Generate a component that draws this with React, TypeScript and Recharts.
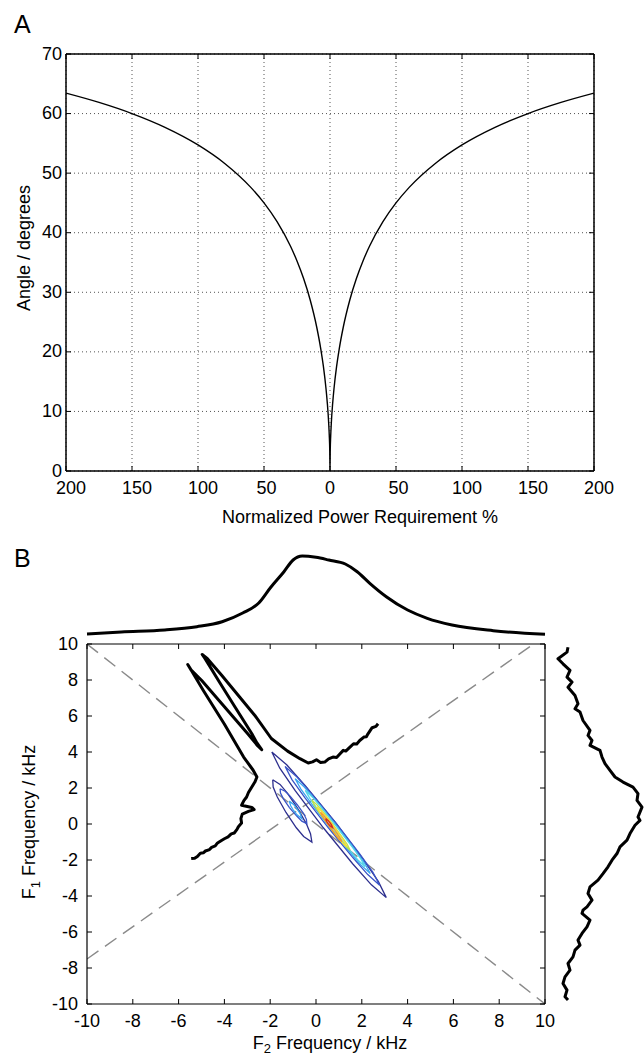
import { LineChart, ComposedChart, Line, XAxis, YAxis, CartesianGrid } from "recharts";

const FONT = "'Liberation Sans', Arial, Helvetica, sans-serif";

// ---- panel A: angle vs normalized power ----
const powerPct = [-200, -175, -150, -125, -100, -80, -60, -50, -40, -30, -25, -20, -15, -10, -7, -5, -3, -2, -1, -0.5, -0.2, 0, 0.2, 0.5, 1, 2, 3, 5, 7, 10, 15, 20, 25, 30, 40, 50, 60, 80, 100, 125, 150, 175, 200];
const angleDeg = [63.43, 61.87, 60.0, 57.69, 54.74, 51.67, 47.61, 45.0, 41.81, 37.76, 35.26, 32.31, 28.71, 24.09, 20.51, 17.55, 13.76, 11.31, 8.05, 5.71, 3.62, 0, 3.62, 5.71, 8.05, 11.31, 13.76, 17.55, 20.51, 24.09, 28.71, 32.31, 35.26, 37.76, 41.81, 45.0, 47.61, 51.67, 54.74, 57.69, 60.0, 61.87, 63.43];
const powerTicks = [-200, -150, -100, -50, 0, 50, 100, 150, 200];
const angleTicks = [0, 10, 20, 30, 40, 50, 60, 70];

// ---- panel B ----
const freqTicks = [-10, -8, -6, -4, -2, 0, 2, 4, 6, 8, 10];

const topF2 = [-10, -8.5, -6.6, -5.2, -4.1, -3.2, -2.5, -2.0, -1.4, -1.0, -0.6, 0, 0.56, 1.28, 1.8, 2.35, 3.07, 4.0, 4.86, 5.94, 7.74, 10];
const topDensity = [6, 8, 10, 13.3, 18.3, 27, 37, 52, 68.3, 80, 84, 82.7, 80, 76, 68.3, 56.7, 43.3, 30, 21.7, 15, 9.3, 5.7];

const rightF1 = [9.82, 9.55, 9.18, 8.9, 8.53, 8.16, 7.88, 7.6, 7.14, 6.68, 6.4, 6.22, 5.75, 5.2, 4.92, 4.64, 4.37, 4.09, 3.72, 3.35, 2.98, 2.61, 2.33, 2.05, 1.69, 1.31, 0.94, 0.39, 0.2, -0.07, -0.53, -0.9, -1.27, -1.64, -2.01, -2.38, -2.76, -3.12, -3.49, -3.86, -4.23, -4.6, -4.79, -4.97, -5.34, -5.71, -6.08, -6.45, -6.73, -7.01, -7.38, -7.75, -8.12, -8.49, -8.86, -9.23, -9.6, -9.78];
const rightDensity = [18, 17, 8, 13, 20, 17, 22, 18, 25, 28, 25, 30, 33, 40, 38, 42, 40, 50, 52, 55, 60, 65, 73, 83, 88, 87, 92, 88, 90, 85, 80, 77, 70, 67, 62, 58, 53, 48, 40, 38, 42, 37, 33, 32, 40, 37, 32, 28, 30, 25, 23, 18, 20, 15, 13, 17, 15, 18];

// [F2, F1] pairs
const trajectory: [number, number][] = [
  [-5.45, -1.92], [-5.3, -1.9], [-5.18, -1.8], [-5.05, -1.62], [-4.92, -1.6], [-4.83, -1.5], [-4.65, -1.42], [-4.56, -1.3],
  [-4.4, -1.22], [-4.3, -1.05], [-4.11, -0.9], [-4.0, -0.82], [-3.84, -0.72], [-3.7, -0.55], [-3.57, -0.5], [-3.45, -0.3],
  [-3.39, -0.15], [-3.25, 0.05], [-3.28, 0.3], [-3.22, 0.55], [-2.95, 0.7], [-2.7, 0.8], [-2.8, 0.92], [-3.25, 1.04],
  [-3.15, 1.3], [-3.03, 1.5], [-2.95, 1.75], [-2.85, 1.96], [-2.67, 2.33], [-2.58, 2.61], [-2.75, 3.0], [-3.16, 3.72],
  [-4.01, 5.57], [-4.92, 7.42], [-5.44, 8.53], [-5.6, 8.86], [-5.45, 8.55], [-4.99, 7.97], [-3.98, 6.49], [-2.98, 5.01],
  [-2.55, 4.35], [-2.37, 4.13], [-2.58, 4.5], [-2.8, 5.01], [-3.53, 6.49], [-4.26, 7.97], [-4.85, 9.2], [-4.97, 9.42],
  [-4.74, 9.18], [-4.11, 8.25], [-3.39, 7.14], [-2.67, 6.03], [-1.95, 4.75], [-1.24, 4.05], [-0.7, 3.63], [-0.34, 3.39],
  [-0.15, 3.45], [0.02, 3.57], [0.2, 3.42], [0.38, 3.44], [0.55, 3.62], [0.74, 3.72], [0.9, 3.7], [1.01, 3.85],
  [1.19, 4.09], [1.3, 4.05], [1.46, 4.24], [1.64, 4.46], [1.78, 4.45], [1.91, 4.64], [2.09, 4.83], [2.2, 4.85],
  [2.27, 5.01], [2.45, 5.35], [2.62, 5.42], [2.71, 5.57],
];

const diagDown: [number, number][] = [[-10, 10], [10, -10]];
const diagUp: [number, number][] = [[-10, -7.5], [9.5, 10]];

const navyMain: [number, number][] = [[-1.93, 4.0], [-1.28, 3.29], [-0.46, 2.12], [0.83, 0.11], [2.04, -1.93], [2.72, -3.19], [3.07, -4.09], [2.42, -3.38], [1.6, -2.21], [0.32, -0.21], [-0.9, 1.84], [-1.58, 3.1], [-1.93, 4.0]];
const blueMain: [number, number][] = [[-1.35, 3.2], [-0.83, 2.61], [-0.17, 1.65], [0.9, 0.01], [1.9, -1.65], [2.48, -2.67], [2.78, -3.4], [2.26, -2.81], [1.6, -1.85], [0.54, -0.21], [-0.48, 1.45], [-1.05, 2.47], [-1.35, 3.2]];
const skyMain: [number, number][] = [[-0.91, 2.52], [-0.5, 2.04], [0.02, 1.27], [0.86, -0.04], [1.66, -1.36], [2.12, -2.17], [2.37, -2.75], [1.96, -2.27], [1.44, -1.5], [0.6, -0.2], [-0.2, 1.13], [-0.66, 1.94], [-0.91, 2.52]];
const cyanMain: [number, number][] = [[-0.47, 1.87], [-0.15, 1.49], [0.27, 0.86], [0.93, -0.2], [1.58, -1.27], [1.95, -1.93], [2.15, -2.38], [1.83, -2.0], [1.42, -1.37], [0.75, -0.32], [0.11, 0.76], [-0.27, 1.42], [-0.47, 1.87]];
const greenMain: [number, number][] = [[-0.18, 1.32], [0.04, 1.07], [0.31, 0.67], [0.74, -0.02], [1.14, -0.73], [1.37, -1.15], [1.49, -1.46], [1.27, -1.21], [1.0, -0.81], [0.58, -0.12], [0.17, 0.59], [-0.06, 1.01], [-0.18, 1.32]];
const yellowMain: [number, number][] = [[0.04, 0.95], [0.21, 0.75], [0.43, 0.43], [0.76, -0.12], [1.08, -0.69], [1.26, -1.03], [1.35, -1.27], [1.18, -1.07], [0.96, -0.75], [0.64, -0.2], [0.32, 0.37], [0.13, 0.71], [0.04, 0.95]];
const orangeMain: [number, number][] = [[0.2, 0.65], [0.32, 0.51], [0.47, 0.27], [0.72, -0.14], [0.94, -0.55], [1.07, -0.81], [1.13, -0.99], [1.01, -0.85], [0.86, -0.61], [0.62, -0.2], [0.39, 0.21], [0.26, 0.47], [0.2, 0.65]];
const redMain: [number, number][] = [[0.42, 0.3], [0.53, 0.2], [0.61, 0.08], [0.68, -0.05], [0.72, -0.2], [0.61, -0.1], [0.53, 0.02], [0.46, 0.15], [0.42, 0.3]];
const navyLobe: [number, number][] = [[-1.89, 2.46], [-1.57, 2.2], [-1.25, 1.72], [-0.81, 0.88], [-0.42, 0.01], [-0.24, -0.54], [-0.18, -1.0], [-0.54, -0.69], [-0.86, -0.21], [-1.31, 0.64], [-1.69, 1.5], [-1.87, 2.05], [-1.89, 2.46]];
const blueLobe: [number, number][] = [[-1.57, 1.96], [-1.35, 1.82], [-1.13, 1.55], [-0.82, 1.07], [-0.54, 0.58], [-0.42, 0.26], [-0.4, 0.02], [-0.62, 0.16], [-0.84, 0.44], [-1.16, 0.91], [-1.43, 1.41], [-1.55, 1.72], [-1.57, 1.96]];
const skyLobe: [number, number][] = [[-1.17, 1.27], [-0.96, 1.07], [-0.82, 0.83], [-0.69, 0.58], [-0.62, 0.3], [-0.83, 0.51], [-0.98, 0.75], [-1.1, 1.0], [-1.17, 1.27]];

const contours: { pts: [number, number][]; color: string }[] = [
  { pts: navyLobe, color: "#2d2f8e" },
  { pts: blueLobe, color: "#3a55c8" },
  { pts: skyLobe, color: "#3aa6ee" },
  { pts: navyMain, color: "#2d2f8e" },
  { pts: blueMain, color: "#3a55c8" },
  { pts: skyMain, color: "#3aa6ee" },
  { pts: cyanMain, color: "#55d6e8" },
  { pts: greenMain, color: "#bde24c" },
  { pts: yellowMain, color: "#f4e03a" },
  { pts: orangeMain, color: "#f09a30" },
  { pts: redMain, color: "#d8261c" },
];

const angleData = powerPct.map((p, i) => ({ p, a: angleDeg[i] }));
const topData = topF2.map((x, i) => ({ x, y: topDensity[i] }));
const rightData = rightF1.map((f, i) => ({ v: rightDensity[i], f }));
const toXY = (pts: [number, number][]) => pts.map(([x, y]) => ({ x, y }));

type Side = "bottom" | "top" | "left" | "right";

function makeTick(side: Side, len: number, fmt?: (v: number) => string, gap = 0, shift = 0) {
  return function TickMark(props: any) {
    const { x, y, payload } = props;
    const v = payload ? payload.value : 0;
    const mark =
      side === "bottom" ? { x1: x, x2: x, y1: y, y2: y - len }
      : side === "top" ? { x1: x, x2: x, y1: y, y2: y + len }
      : side === "left" ? { x1: x, x2: x + len, y1: y, y2: y }
      : { x1: x, x2: x - len, y1: y, y2: y };
    const s = fmt ? fmt(v) : "";
    return (
      <g>
        <line {...mark} stroke="#000" strokeWidth={1} />
        {fmt && side === "bottom" && (
          <text x={x + shift * (s.length - 1)} y={y + gap} textAnchor="middle" fontSize={18} fontFamily={FONT} fill="#000">
            {s}
          </text>
        )}
        {fmt && side === "left" && (
          <text x={x - gap} y={y + 5.5} textAnchor="end" fontSize={18} fontFamily={FONT} fill="#000">
            {s}
          </text>
        )}
      </g>
    );
  };
}

const absFmt = (v: number) => String(Math.abs(v));
const plainFmt = (v: number) => String(v);

function PanelA() {
  const axisA = { stroke: "#000", strokeWidth: 1.5 };
  return (
    <div style={{ position: "absolute", left: 0, top: 0 }}>
      <LineChart width={644} height={540} data={angleData} margin={{ top: 53, right: 49, bottom: 68, left: 65 }}>
        <CartesianGrid stroke="#555" strokeDasharray="1 3" />
        <XAxis dataKey="p" type="number" domain={[-200, 200]} ticks={powerTicks} interval={0} allowDataOverflow
          height={1} tickSize={0} tickMargin={0} axisLine={axisA} tickLine={false} tick={makeTick("bottom", 5, absFmt, 23, 2.5)} />
        <XAxis xAxisId="top" orientation="top" dataKey="p" type="number" domain={[-200, 200]} ticks={powerTicks} interval={0}
          allowDataOverflow height={1} tickSize={0} tickMargin={0} axisLine={axisA} tickLine={false} tick={makeTick("top", 5)} />
        <YAxis type="number" domain={[0, 70]} ticks={angleTicks} interval={0} allowDataOverflow width={1}
          tickSize={0} tickMargin={0} axisLine={axisA} tickLine={false} tick={makeTick("left", 5, plainFmt, 4)} />
        <YAxis yAxisId="right" orientation="right" type="number" domain={[0, 70]} ticks={angleTicks} interval={0}
          allowDataOverflow width={1} tickSize={0} tickMargin={0} axisLine={axisA} tickLine={false} tick={makeTick("right", 5)} />
        <Line dataKey="a" type="monotone" stroke="#000" strokeWidth={1.4} dot={false} activeDot={false} isAnimationActive={false} />
        <Line dataKey="a" xAxisId="top" yAxisId="right" stroke="none" dot={false} activeDot={false} isAnimationActive={false} />
      </LineChart>
    </div>
  );
}

function PanelBMain() {
  const axisB = { stroke: "#000", strokeWidth: 1.2 };
  return (
    <div style={{ position: "absolute", left: 0, top: 580 }}>
      <ComposedChart width={644} height={477} margin={{ top: 63, right: 98, bottom: 52, left: 86 }}>
        <XAxis dataKey="x" type="number" domain={[-10, 10]} ticks={freqTicks} interval={0} allowDataOverflow
          height={1} tickSize={0} tickMargin={0} axisLine={axisB} tickLine={false} tick={makeTick("bottom", 5, plainFmt, 23)} />
        <XAxis xAxisId="top" orientation="top" dataKey="x" type="number" domain={[-10, 10]} ticks={freqTicks} interval={0}
          allowDataOverflow height={1} tickSize={0} tickMargin={0} axisLine={axisB} tickLine={false} tick={makeTick("top", 5)} />
        <YAxis type="number" domain={[-10, 10]} ticks={freqTicks} interval={0} allowDataOverflow width={1}
          tickSize={0} tickMargin={0} axisLine={axisB} tickLine={false} tick={makeTick("left", 5, plainFmt, 9)} />
        <YAxis yAxisId="right" orientation="right" type="number" domain={[-10, 10]} ticks={freqTicks} interval={0}
          allowDataOverflow width={1} tickSize={0} tickMargin={0} axisLine={axisB} tickLine={false} tick={makeTick("right", 5)} />
        <Line data={toXY(diagDown)} dataKey="y" type="linear" stroke="#8a8a8a" strokeWidth={1.4} strokeDasharray="14 8"
          dot={false} activeDot={false} isAnimationActive={false} />
        <Line data={toXY(diagUp)} dataKey="y" type="linear" stroke="#8a8a8a" strokeWidth={1.4} strokeDasharray="14 8"
          dot={false} activeDot={false} isAnimationActive={false} />
        {contours.map((c, i) => (
          <Line key={"c" + i} data={toXY(c.pts)} dataKey="y" type="linear" stroke={c.color} strokeWidth={1.3}
            dot={false} activeDot={false} isAnimationActive={false} />
        ))}
        <Line data={toXY(trajectory)} dataKey="y" type="linear" stroke="#000" strokeWidth={3} strokeLinejoin="round"
          dot={false} activeDot={false} isAnimationActive={false} />
        <Line data={toXY(diagDown)} dataKey="y" xAxisId="top" yAxisId="right" stroke="none" dot={false} activeDot={false}
          isAnimationActive={false} />
      </ComposedChart>
    </div>
  );
}

function PanelBTop() {
  return (
    <div style={{ position: "absolute", left: 0, top: 545 }}>
      <LineChart width={644} height={95} data={topData} margin={{ top: 5, right: 99, bottom: 0, left: 87 }}>
        <XAxis dataKey="x" type="number" domain={[-10, 10]} hide height={0} />
        <YAxis type="number" domain={[0, 90]} hide width={0} />
        <Line dataKey="y" type="monotone" stroke="#000" strokeWidth={3} dot={false} activeDot={false} isAnimationActive={false} />
      </LineChart>
    </div>
  );
}

function PanelBRight() {
  return (
    <div style={{ position: "absolute", left: 550, top: 630 }}>
      <LineChart width={94} height={390} data={rightData} margin={{ top: 14, right: 0, bottom: 16, left: 0 }}>
        <XAxis dataKey="v" type="number" domain={[0, 94]} hide height={0} />
        <YAxis type="number" domain={[-10, 10]} hide width={0} />
        <Line dataKey="f" type="linear" stroke="#000" strokeWidth={3} strokeLinejoin="round" dot={false} activeDot={false}
          isAnimationActive={false} />
      </LineChart>
    </div>
  );
}

export default function App() {
  return (
    <div style={{ position: "absolute", left: 0, top: 0, width: 644, height: 1057, background: "#fff", overflow: "hidden" }}>
      <PanelA />
      <PanelBTop />
      <PanelBMain />
      <PanelBRight />
      <svg width={644} height={1057} style={{ position: "absolute", left: 0, top: 0, pointerEvents: "none" }}
        fontFamily={FONT} fill="#000">
        <text x={14} y={33} fontSize={25}>A</text>
        <text transform="translate(30,248) rotate(-90)" fontSize={18} textAnchor="middle">Angle / degrees</text>
        <text x={360} y={523} fontSize={18} textAnchor="middle">Normalized Power Requirement %</text>
        <text x={14} y={567} fontSize={25}>B</text>
        <text transform="translate(35,822) rotate(-90)" fontSize={18} textAnchor="middle">
          F<tspan fontSize={13} dy={5}>1</tspan>
          <tspan dy={-5}> Frequency / kHz</tspan>
        </text>
        <text x={330} y={1049} fontSize={18} textAnchor="middle">
          F<tspan fontSize={13} dy={4}>2</tspan>
          <tspan dy={-4}> Frequency / kHz</tspan>
        </text>
      </svg>
    </div>
  );
}
